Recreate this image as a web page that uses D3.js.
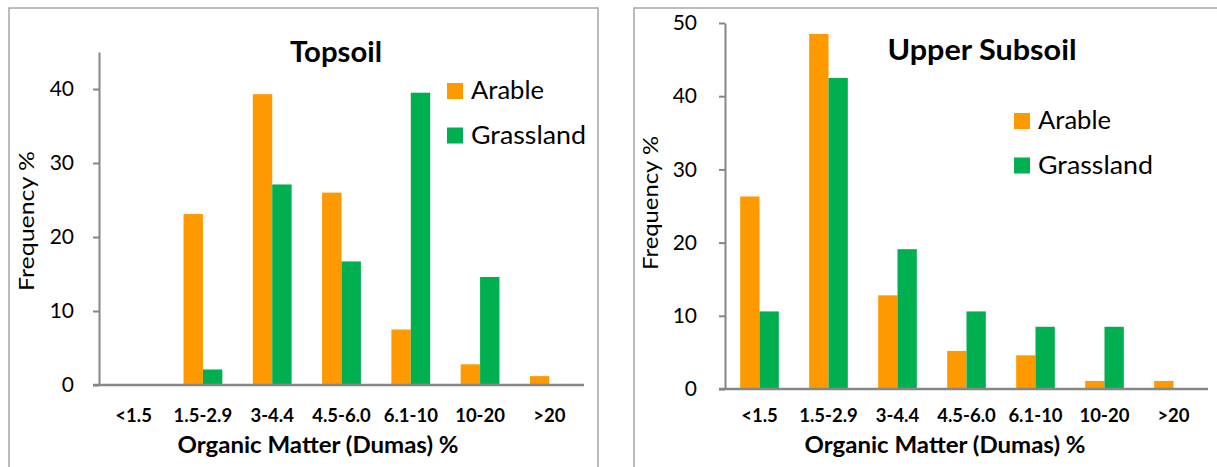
<!DOCTYPE html>
<html>
<head>
<meta charset="utf-8">
<script src="https://cdn.jsdelivr.net/npm/d3@7"></script>
<style>
  body { margin: 0; background: #fff; }
  svg { display: block; font-family: Lato, "Open Sans", sans-serif; }
</style>
</head>
<body>
<svg id="chart" width="1217" height="467"></svg>
<script>
// categories and values
var categories = ["<1.5", "1.5-2.9", "3-4.4", "4.5-6.0", "6.1-10", "10-20", ">20"];
var seriesNames = ["Arable", "Grassland"];
var topsoilArable    = [0, 23.1, 39.3, 26.0, 7.5, 2.8, 1.2];
var topsoilGrassland = [0, 2.1, 27.1, 16.7, 39.5, 14.6, 0];
var subsoilArable    = [26.3, 48.5, 12.8, 5.2, 4.6, 1.1, 1.1];
var subsoilGrassland = [10.6, 42.5, 19.1, 10.6, 8.5, 8.5, 0];
var topsoilTicks = [0, 10, 20, 30, 40];
var subsoilTicks = [0, 10, 20, 30, 40, 50];

var colors = ["#ff9900", "#00b050"];
var axisGrey = "#868686";
var legendWidths = [73, 115]; // text widths in the picture (it is stretched a little sideways)

var svg = d3.select("#chart");

// panel frames (run off the bottom / right edge like the source picture)
svg.append("rect").attr("x", 9).attr("y", 8).attr("width", 589).attr("height", 480)
  .attr("fill", "none").attr("stroke", "#a6a6a6").attr("stroke-width", 1.5);
svg.append("rect").attr("x", 634).attr("y", 8).attr("width", 600).attr("height", 480)
  .attr("fill", "none").attr("stroke", "#a6a6a6").attr("stroke-width", 1.5);

function drawPanel(p) {
  var g = svg.append("g");

  var x = d3.scaleBand().domain(categories).range([p.x0, p.x1]);
  var y = d3.scaleLinear().domain([0, p.ymax]).range([p.y0, p.ytop]);
  var bw = x.bandwidth() * 0.28;
  var sub = d3.scaleBand().domain(seriesNames).range([0, bw * 2]);
  var off = (x.bandwidth() - bw * 2) / 2;

  var rows = categories.map(function(c, i) {
    return {cat: c, vals: [p.a[i], p.b[i]]};
  });

  g.selectAll("g.grp")
    .data(rows)
    .enter().append("g")
    .attr("class", "grp")
    .attr("transform", function(d) { return "translate(" + (x(d.cat) + off) + ",0)"; })
    .selectAll("rect")
    .data(function(d) { return d.vals; })
    .enter().append("rect")
    .attr("x", function(d, i) { return sub(seriesNames[i]); })
    .attr("width", sub.bandwidth())
    .attr("y", function(d) { return y(d); })
    .attr("height", function(d) { return y(0) - y(d); })
    .attr("fill", function(d, i) { return colors[i]; });

  // y axis
  var yAxis = g.append("g")
    .attr("transform", "translate(" + p.x0 + ",0)")
    .call(d3.axisLeft(y).tickValues(p.ticks).tickSize(6).tickPadding(p.tickPad).tickSizeOuter(0));
  yAxis.select(".domain").attr("stroke", axisGrey).attr("stroke-width", 2);
  yAxis.selectAll(".tick line").attr("stroke", axisGrey).attr("stroke-width", 2);
  yAxis.selectAll(".tick text").attr("fill", "#000").style("font-size", "21px")
    .style("font-family", "Lato, sans-serif");

  // x axis baseline (no category ticks)
  g.append("line")
    .attr("x1", p.x0 - 6).attr("x2", p.x1)
    .attr("y1", y(0)).attr("y2", y(0))
    .attr("stroke", axisGrey).attr("stroke-width", 2.5);

  g.selectAll("text.cat")
    .data(categories)
    .enter().append("text")
    .attr("class", "cat")
    .attr("x", function(d) { return x(d) + x.bandwidth() / 2; })
    .attr("y", 422)
    .attr("text-anchor", "middle")
    .style("font-size", "18.5px").style("font-weight", "bold")
    .text(function(d) { return d; });

  g.append("text")
    .attr("x", p.xTitleX).attr("y", 453)
    .attr("text-anchor", "middle")
    .attr("textLength", 281).attr("lengthAdjust", "spacingAndGlyphs")
    .style("font-size", "22px").style("font-weight", "bold")
    .text("Organic Matter (Dumas) %");

  g.append("text")
    .attr("transform", "translate(" + p.yTitleX + "," + p.yTitleY + ") rotate(-90)")
    .attr("text-anchor", "middle")
    .attr("textLength", p.yTitleLen).attr("lengthAdjust", "spacingAndGlyphs")
    .style("font-size", "22px")
    .text("Frequency %");

  g.append("text")
    .attr("x", p.titleX).attr("y", p.titleY)
    .attr("text-anchor", "middle")
    .attr("textLength", p.titleLen).attr("lengthAdjust", "spacingAndGlyphs")
    .style("font-size", "28px").style("font-weight", "bold")
    .text(p.title);

  // legend
  var leg = g.selectAll("g.leg")
    .data(seriesNames)
    .enter().append("g")
    .attr("class", "leg")
    .attr("transform", function(d, i) { return "translate(" + p.legX + "," + (p.legY + i * 44.5) + ")"; });
  leg.append("rect").attr("width", 16).attr("height", 16)
    .attr("fill", function(d, i) { return colors[i]; });
  leg.append("text").attr("x", 24).attr("y", 16)
    .attr("textLength", function(d, i) { return legendWidths[i]; })
    .attr("lengthAdjust", "spacingAndGlyphs")
    .style("font-size", "25px")
    .text(function(d) { return d; });
}

drawPanel({
  title: "Topsoil", a: topsoilArable, b: topsoilGrassland, ticks: topsoilTicks, ymax: 45,
  x0: 99, x1: 584, y0: 385, ytop: 52, tickPad: 19,
  titleX: 336, titleY: 62, titleLen: 92, legX: 447, legY: 83,
  xTitleX: 318, yTitleX: 34, yTitleY: 221, yTitleLen: 140
});

drawPanel({
  title: "Upper Subsoil", a: subsoilArable, b: subsoilGrassland, ticks: subsoilTicks, ymax: 50,
  x0: 725, x1: 1208, y0: 389, ytop: 23, tickPad: 22,
  titleX: 982, titleY: 60, titleLen: 189, legX: 1014, legY: 113,
  xTitleX: 945, yTitleX: 658, yTitleY: 203, yTitleLen: 134
});
</script>
</body>
</html>
